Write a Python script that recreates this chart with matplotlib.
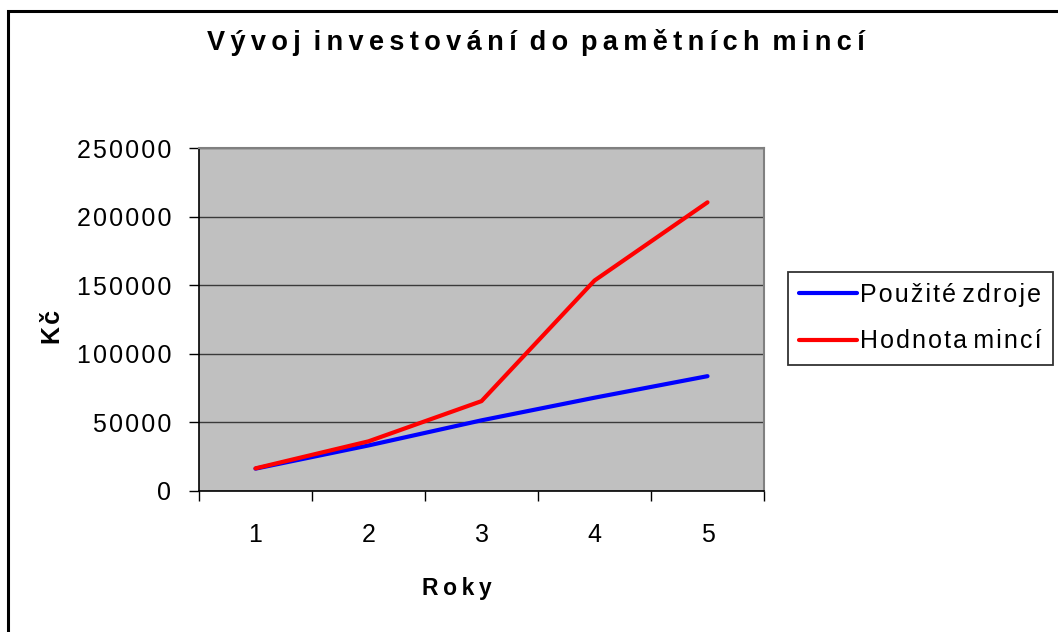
import matplotlib
matplotlib.use("Agg")
import matplotlib.pyplot as plt
from matplotlib.patches import Rectangle
from matplotlib.ticker import FixedLocator, FuncFormatter

# ---- data ----
years = [1, 2, 3, 4, 5]
pouzite_zdroje = [16300, 33200, 51500, 68000, 83700]
hodnota_minci = [16500, 36200, 65500, 153400, 210400]
series_labels = ["Použité zdroje", "Hodnota mincí"]
title_text = "Vývoj investování do pamětních mincí"
xlabel_text = "Roky"
ylabel_text = "Kč"
yticks = [0, 50000, 100000, 150000, 200000, 250000]

plt.rcParams["font.family"] = ["Liberation Sans", "DejaVu Sans"]

HAIR = "\u200a"
THIN = "\u2009"


def spaced(s, sep=HAIR, wsep=None):
    if wsep is None:
        wsep = sep * 3
    words = s.split(" ")
    return wsep.join(sep.join(w) for w in words)


W, H = 1058, 632
fig = plt.figure(figsize=(W / 100, H / 100), dpi=100)
fig.patch.set_facecolor("white")

# outer chart border
fig.patches.append(Rectangle((8 / W, -0.05), 1.1, 1 - 11 / H + 0.05, transform=fig.transFigure,
                             fill=False, edgecolor="black", lw=2.2, zorder=0))

ax = fig.add_axes([199 / W, 1 - 491 / H, 565 / W, 343 / H])
ax.set_facecolor("#C0C0C0")

ax.plot(years, pouzite_zdroje, color="#0000FF", lw=3.0, solid_capstyle="round",
        label=spaced(series_labels[0]), zorder=3)
ax.plot(years, hodnota_minci, color="#FF0000", lw=3.0, solid_capstyle="round",
        label=spaced(series_labels[1]), zorder=4)

ax.set_xlim(0.5, 5.5)
ax.set_ylim(0, 250000)
ax.yaxis.set_major_locator(FixedLocator(yticks))
ax.yaxis.set_major_formatter(FuncFormatter(lambda v, p: spaced(str(int(v)))))
ax.xaxis.set_major_locator(FixedLocator(years))
ax.xaxis.set_minor_locator(FixedLocator([0.5, 1.5, 2.5, 3.5, 4.5, 5.5]))
ax.set_xticklabels([str(y) for y in years])

fs_tick = 18
ax.tick_params(axis="y", which="major", length=7, width=1, direction="out", pad=13,
               labelsize=fs_tick, color="black")
ax.tick_params(axis="x", which="major", length=0, pad=23, labelsize=fs_tick)
ax.tick_params(axis="x", which="minor", length=7, width=1, direction="out", color="black")

ax.grid(axis="y", color="#3a3a3a", lw=1.0)
ax.set_axisbelow(True)
for s in ["top", "right"]:
    ax.spines[s].set_color("#808080")
    ax.spines[s].set_linewidth(1.5)
for s in ["left", "bottom"]:
    ax.spines[s].set_color("black")
    ax.spines[s].set_linewidth(1.2)

fig.text(536 / W, 1 - 50 / H, spaced(title_text, THIN, " " + THIN), ha="center", va="baseline",
         fontsize=19.5, fontweight="bold")
fig.text(457 / W, 1 - 595 / H, spaced(xlabel_text, THIN), ha="center", va="baseline",
         fontsize=16.5, fontweight="bold")
fig.text(53 / W, 1 - 327 / H, spaced(ylabel_text), ha="center", va="center", rotation=90,
         fontsize=18, fontweight="bold")

leg = ax.legend(loc="center left", bbox_to_anchor=(788 / W, 1 - 318 / H), bbox_transform=fig.transFigure,
                fontsize=fs_tick, frameon=True, fancybox=False, edgecolor="black", facecolor="white",
                handlelength=2.3, handletextpad=0.12, labelspacing=0.9, borderpad=0.45, borderaxespad=0)
leg.get_frame().set_linewidth(1.3)
for l in leg.get_lines():
    l.set_linewidth(3.0)

fig.savefig("out.png", dpi=100)
